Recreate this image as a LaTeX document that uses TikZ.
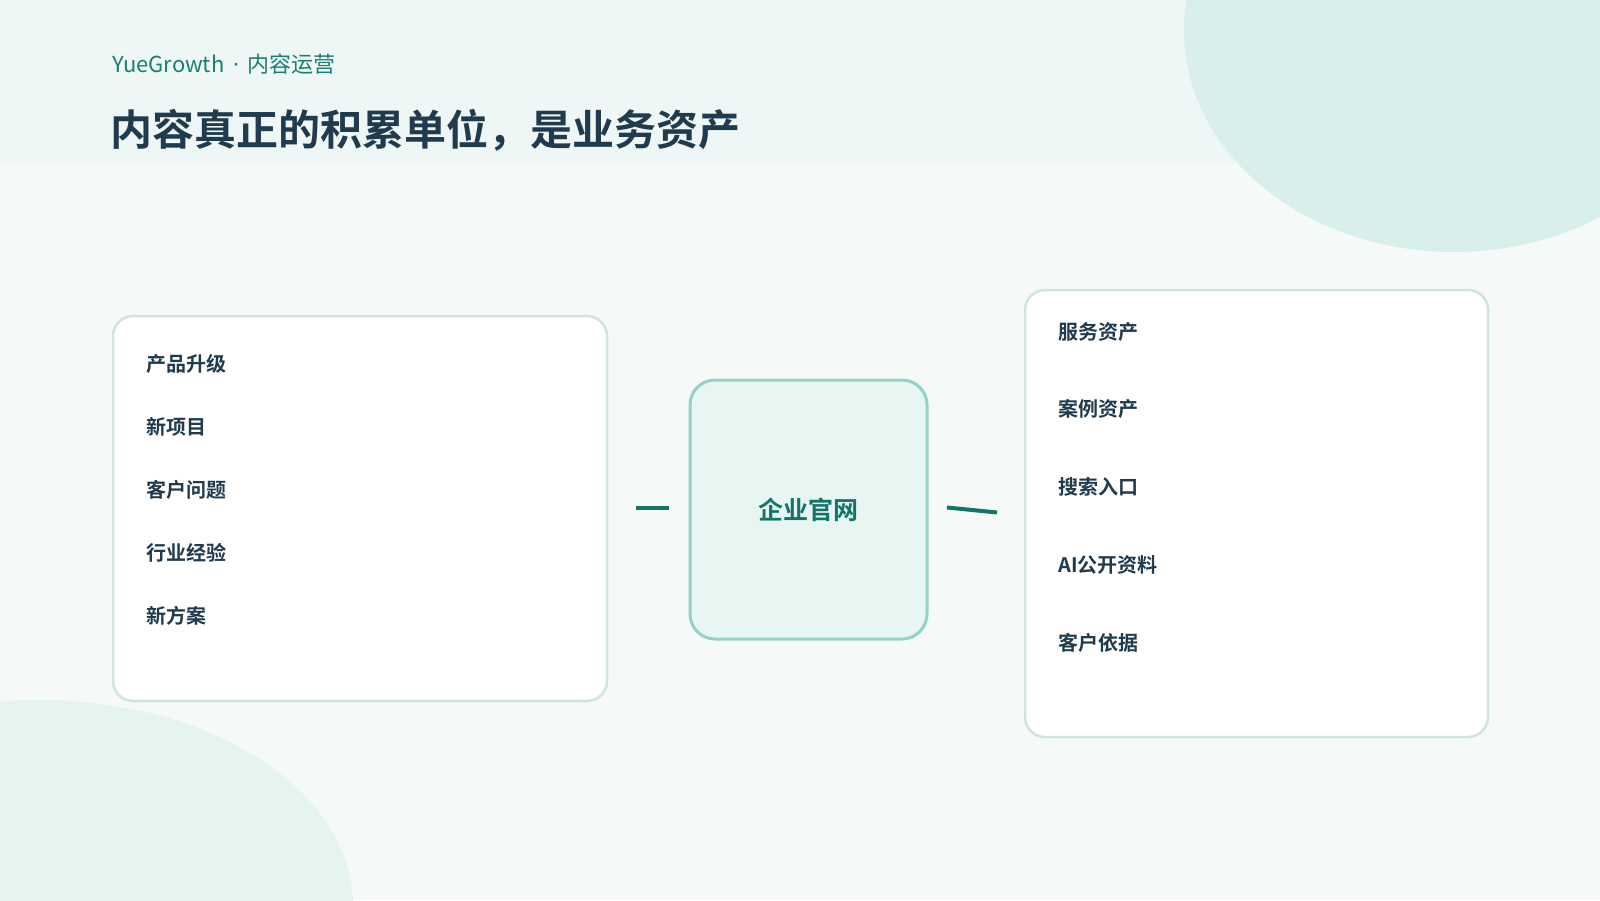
\documentclass[tikz,border=0pt]{standalone}
\usepackage{fontspec}
\setmainfont{Noto Sans CJK SC}
\newfontfamily\cjkbold{Noto Sans CJK SC Bold}
\newfontfamily\latinfont{Open Sans}
\definecolor{bgc}{HTML}{F5FAF9}
\definecolor{bandc}{HTML}{EEF7F5}
\definecolor{blobA}{HTML}{D9EFEB}
\definecolor{blobB}{HTML}{E6F4F1}
\definecolor{boxline}{HTML}{CFE3E1}
\definecolor{darktext}{HTML}{1F3B4D}
\definecolor{tealc}{HTML}{13756A}
\definecolor{subteal}{HTML}{1A7F72}
\definecolor{hubfill}{HTML}{E7F6F2}
\definecolor{hubline}{HTML}{94D1C6}
\tikzset{
  panel/.style={draw=boxline, line width=2.5pt, fill=white, rounded corners=20pt, inner sep=0pt},
  hub/.style={draw=hubline, line width=3pt, fill=hubfill, rounded corners=25pt, inner sep=0pt,
    font=\cjkbold\fontsize{25}{30}\selectfont, text=tealc},
  item/.style={anchor=west, inner sep=0pt, font=\cjkbold\fontsize{20}{24}\selectfont, text=darktext},
  link/.style={draw=tealc, line width=4pt}
}
\begin{document}
\begin{tikzpicture}[x=1pt, y=-1pt]
\useasboundingbox (0,0) rectangle (1600,900);
% background
\fill[bgc] (0,0) rectangle (1600,900);
\fill[bandc] (0,0) rectangle (1600,163);
\fill[blobA] (1454,31) ellipse [x radius=270, y radius=221];
\fill[blobB] (40,905) ellipse [x radius=313, y radius=205];
% header
\node[anchor=west, inner sep=0pt, text=subteal, font=\fontsize{22}{26}\selectfont] (sub) at (112,64) {YueGrowth{\latinfont\hspace{8.5pt}·\hspace{8.5pt}}内容运营};
\node[anchor=west, inner sep=0pt, text=darktext, font=\cjkbold\fontsize{42}{50}\selectfont] (title) at (110,130) {内容真正的积累单位，是业务资产};
% panels
\node[panel, minimum width=494pt, minimum height=385pt] (left) at (360,508.5) {};
\node[panel, minimum width=463pt, minimum height=447pt] (right) at (1256.5,513.5) {};
\node[hub, minimum width=237pt, minimum height=259pt] (hubn) at (808.5,509.5) {企业官网};
% left items
\node[item] (l1) at (146,364) {产品升级};
\node[item] (l2) at (146,427) {新项目};
\node[item] (l3) at (146,490) {客户问题};
\node[item] (l4) at (146,553) {行业经验};
\node[item] (l5) at (146,616) {新方案};
% right items
\node[item] (r1) at (1058,332) {服务资产};
\node[item] (r2) at (1058,409) {案例资产};
\node[item] (r3) at (1058,487) {搜索入口};
\node[item] (r4) at (1058,565) {AI公开资料};
\node[item] (r5) at (1058,643) {客户依据};
% connectors
\coordinate (la) at (636,508);
\coordinate (lb) at (669,508);
\coordinate (ra) at (947,507.5);
\coordinate (rb) at (997,512.5);
\draw[link] (la) -- (lb);
\draw[link] (ra) -- (rb);
\end{tikzpicture}
\end{document}
